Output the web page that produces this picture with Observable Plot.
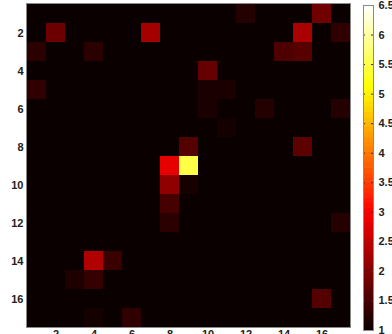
<!DOCTYPE html>
<html>
<head>
<meta charset="utf-8">
<script src="https://cdn.jsdelivr.net/npm/d3@7"></script>
<script src="https://cdn.jsdelivr.net/npm/@observablehq/plot@0.6"></script>
<style>
  html, body { margin: 0; padding: 0; background: white; overflow: hidden; }
  #wrap { position: relative; width: 392px; height: 334px; overflow: hidden; }
  #wrap svg { position: absolute; top: 0; overflow: visible; }
</style>
</head>
<body>
<div id="wrap"></div>
<script>
const rowIds = [1,2,3,4,5,6,7,8,9,10,11,12,13,14,15,16,17];
const colIds = [1,2,3,4,5,6,7,8,9,10,11,12,13,14,15,16,17];
const tickLabels = [2,4,6,8,10,12,14,16];
const colorTicks = [1,1.5,2,2.5,3,3.5,4,4.5,5,5.5,6,6.5];
const colorDomain = [1, 6.5];
const values = [
  [1,1,1,1,1,1,1,1,1,1,1,1.22,1,1,1,1.83,1],
  [1,1.8,1,1,1,1,2.26,1,1,1,1,1,1,1,2.3,1,1.31],
  [1.26,1,1,1.26,1,1,1,1,1,1,1,1,1,1.55,1.62,1,1],
  [1,1,1,1,1,1,1,1,1,1.75,1,1,1,1,1,1,1],
  [1.31,1,1,1,1,1,1,1,1,1.13,1.13,1,1,1,1,1,1],
  [1,1,1,1,1,1,1,1,1,1.13,1,1,1.22,1,1,1,1.22],
  [1,1,1,1,1,1,1,1,1,1,1.085,1,1,1,1,1,1],
  [1,1,1,1,1,1,1,1,1.6,1,1,1,1,1,1.68,1,1],
  [1,1,1,1,1,1,1,2.8,5.5,1,1,1,1,1,1,1,1],
  [1,1,1,1,1,1,1,2.1,1.1,1,1,1,1,1,1,1,1],
  [1,1,1,1,1,1,1,1.5,1,1,1,1,1,1,1,1,1],
  [1,1,1,1,1,1,1,1.26,1,1,1,1,1,1,1,1,1.22],
  [1,1,1,1,1,1,1,1,1,1,1,1,1,1,1,1,1],
  [1,1,1,2.36,1.39,1,1,1,1,1,1,1,1,1,1,1,1],
  [1,1,1.16,1.35,1,1,1,1,1,1,1,1,1,1,1,1,1],
  [1,1,1,1,1,1,1,1,1,1,1,1,1,1,1,1.61,1],
  [1,1,1,1.085,1,1.31,1,1,1,1,1,1,1,1,1,1,1]
];

// MATLAB "hot" colormap (64 levels, continuous form)
function hot(t) {
  const k = 1 + 63 * Math.max(0, Math.min(1, t));
  const c = v => Math.round(255 * Math.max(0, Math.min(1, v)));
  return `rgb(${c(k / 24)},${c((k - 24) / 24)},${c((k - 48) / 16)})`;
}

const cells = [];
rowIds.forEach((r, i) => colIds.forEach((c, j) => cells.push({row: r, col: c, value: values[i][j]})));

const font = "bold 11px 'Liberation Sans', Arial, sans-serif";

const main = Plot.plot({
  width: 355,
  height: 334,
  marginLeft: 26,
  marginRight: 5,
  marginTop: 3,
  marginBottom: 7,
  style: {font, color: "#222", background: "transparent", overflow: "visible"},
  x: {domain: colIds, padding: 0, ticks: tickLabels, tickSize: 0, tickPadding: 3, label: null},
  y: {domain: rowIds, padding: 0, ticks: tickLabels, tickSize: 0, tickPadding: 3, label: null},
  color: {type: "linear", domain: colorDomain, interpolate: () => hot},
  marks: [
    Plot.cell(cells, {x: "col", y: "row", fill: "value", inset: 0, shapeRendering: "crispEdges"}),
    Plot.axisX({ticks: tickLabels, tickSize: 0, tickPadding: 3, anchor: "bottom"}),
    Plot.axisY({ticks: tickLabels, tickSize: 0, tickPadding: 3, anchor: "left"}),
    Plot.frame({stroke: "#8a8a8a"})
  ]
});
main.style.left = "0px";

const N = 64;
const step = (colorDomain[1] - colorDomain[0]) / N;
const bands = d3.range(N).map(i => ({y1: colorDomain[0] + i * step, y2: colorDomain[0] + (i + 1) * step, v: colorDomain[0] + (i + 0.5) * step}));

const bar = Plot.plot({
  width: 37,
  height: 334,
  marginLeft: 8,
  marginRight: 19,
  marginTop: 5,
  marginBottom: 4,
  style: {font, color: "#222", background: "transparent", overflow: "visible"},
  x: {domain: [0, 1], axis: null},
  y: {domain: colorDomain, axis: null},
  color: {type: "linear", domain: colorDomain, interpolate: () => hot},
  marks: [
    Plot.rect(bands, {x1: 0, x2: 1, y1: "y1", y2: "y2", fill: "v", shapeRendering: "crispEdges"}),
    Plot.ruleY(colorTicks, {x1: 0, x2: 0.2, stroke: "#333", strokeWidth: 1}),
    Plot.ruleY(colorTicks, {x1: 0.8, x2: 1, stroke: "#333", strokeWidth: 1}),
    Plot.axisY({ticks: colorTicks, anchor: "right", tickSize: 0, tickPadding: 5, tickFormat: d => String(d), label: null}),
    Plot.frame({stroke: "#8a8a8a"})
  ]
});
bar.style.left = "355px";

const wrap = document.getElementById("wrap");
wrap.appendChild(main);
wrap.appendChild(bar);
</script>
</body>
</html>
